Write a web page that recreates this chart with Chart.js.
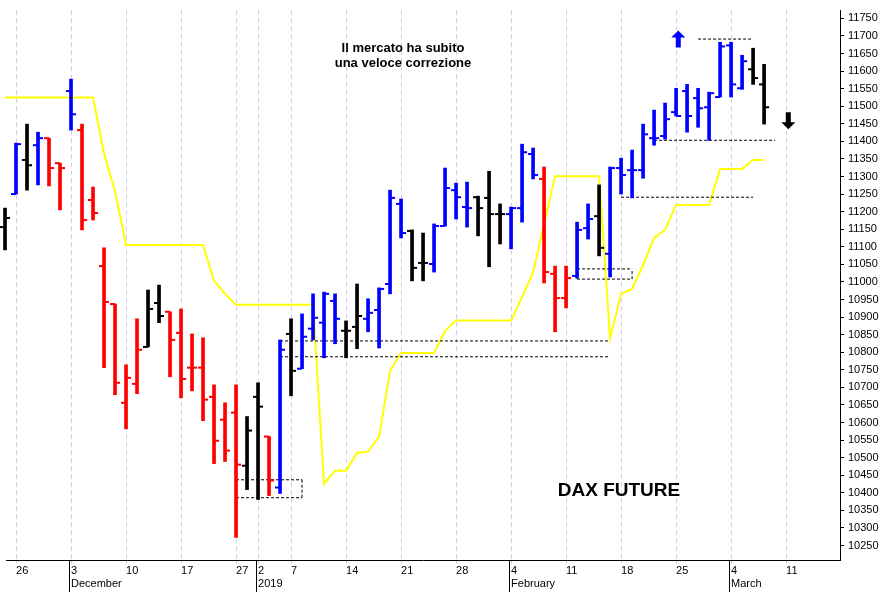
<!DOCTYPE html>
<html>
<head>
<meta charset="utf-8">
<script src="https://cdn.jsdelivr.net/npm/chart.js@4"></script>
<style>
  html, body { margin: 0; padding: 0; background: #fff; }
  #wrap { width: 896px; height: 592px; position: relative; }
</style>
</head>
<body>
<div id="wrap"><canvas id="c" width="896" height="592"></canvas></div>
<script>
// daily bars, index 1 = 23 Nov 2018 ... 70 = 7 Mar 2019
const opens  = [11156,11250,11347,11389,11409,11338,11543,11432,11233,11045,10937,10656,10710,10815,10940,10915,10855,10756,10756,10673,10608,10628,10477,10673,10560,10415,10852,10753,10867,10884,10946,10861,10872,10895,10920,10994,11222,11145,11054,11051,11159,11261,11213,11241,11239,11193,11193,11210,11364,11293,11023,10954,11017,11153,11187,11080,11324,11318,11318,11409,11415,11483,11543,11523,11497,11526,11673,11551,11605,11562];
const highs  = [11210,11395,11449,11426,11409,11338,11577,11449,11270,11097,10937,10764,10895,10977,10991,10915,10923,10852,10841,10707,10656,10707,10617,10713,10560,10835,10895,10909,10966,10971,10966,10889,10994,10952,10983,11261,11236,11148,11139,11165,11324,11281,11284,11244,11315,11222,11213,11392,11381,11327,11045,11045,11170,11222,11276,11327,11352,11375,11449,11489,11509,11551,11562,11551,11540,11682,11682,11645,11665,11619];
const lows   = [11091,11250,11261,11276,11273,11205,11432,11148,11176,10756,10679,10582,10682,10815,10884,10730,10670,10690,10605,10483,10489,10273,10409,10381,10392,10398,10676,10753,10835,10784,10824,10784,10810,10858,10812,10966,11125,11003,11003,11028,11159,11179,11156,11131,11043,11108,11094,11170,11293,10997,10858,10926,11011,11122,11074,11014,11250,11239,11295,11389,11406,11472,11426,11440,11403,11526,11526,11548,11562,11449];
const closes = [11182,11392,11332,11409,11324,11324,11477,11176,11196,10943,10713,10727,10807,10923,10903,10835,10724,10756,10665,10548,10520,10480,10577,10645,10435,10807,10747,10844,10898,10966,10895,10861,10903,10912,10980,11239,11139,11040,11054,11159,11267,11241,11210,11210,11193,11193,11210,11369,11304,11028,10954,11011,11148,11179,11097,11324,11304,11318,11420,11409,11463,11472,11472,11494,11537,11670,11562,11628,11580,11497];
const barColors = 'KBKBRRBRRRRRRKKRRRRRRRKKRBKBBBBKKBBBBKKBBBBKKKBBBRRRBBKBBBBBBBBBBBBBKK';
const stopLine = [11525,11525,11525,11525,11525,11525,11525,11525,11525,11366,11258,11105,11105,11105,11105,11105,11105,11105,11105,11003,10966,10935,10935,10935,10935,10935,10935,10935,10935,10426,10463,10463,10514,10517,10560,10747,10798,10798,10798,10798,10861,10890,10890,10890,10890,10890,10890,10957,11026,11165,11301,11301,11301,11301,11301,10840,10966,10980,11048,11125,11148,11219,11219,11219,11219,11321,11321,11321,11347,11347];
// dashed support/resistance lines: [fromIdx, toIdx, value]
const dashLines = [[26,56,10832],[26,56,10787],[57,69,11241],[60,71,11403],[64,69,11691],[22,28,10437],[22,28,10386],[53,58,11037],[53,58,11008]];
const dashBoxSides = [[22,10386,10437],[28,10386,10437],[53,11008,11037],[58,11008,11037]];
const xTickIdx = [2,7,12,17,22,24,27,32,37,42,47,52,57,62,67,72];
const xTickDays = ['26','3','10','17','27','2','7','14','21','28','4','11','18','25','4','11'];
const xTickMonths = {7:'December',24:'2019',47:'February',67:'March'};

const colMap = { B: '#0000ff', R: '#ff0000', K: '#000000' };
const idx = opens.map((_, i) => i + 1);
const cols = idx.map(i => colMap[barColors[i - 1]]);

const datasets = [];
datasets.push({
  type: 'line', data: [{ x: 0, y: stopLine[0] }].concat(idx.map((x, i) => ({ x, y: stopLine[i] }))),
  borderColor: '#ffff00', borderWidth: 2, pointRadius: 0, tension: 0, order: 5, clip: { left: 6, right: 0, top: 0, bottom: 0 }
});
dashLines.forEach(d => datasets.push({
  type: 'line', data: [{ x: d[0], y: d[2] }, { x: d[1], y: d[2] }],
  borderColor: '#000', borderWidth: 1, borderDash: [3, 2], pointRadius: 0, order: 4
}));
dashBoxSides.forEach(d => datasets.push({
  type: 'line', data: [{ x: d[0], y: d[1] }, { x: d[0], y: d[2] }],
  borderColor: '#000', borderWidth: 1, borderDash: [3, 2], pointRadius: 0, order: 4
}));
datasets.push({
  type: 'bar', data: idx.map((x, i) => ({ x, y: [lows[i], highs[i]] })),
  backgroundColor: cols, barThickness: 3, order: 1, clip: false
});
datasets.push({
  type: 'scatter', data: idx.map((x, i) => ({ x: x - 0.23, y: opens[i] })),
  pointStyle: 'line', radius: 2.5, borderWidth: 2, borderColor: cols, order: 0, clip: false
});
datasets.push({
  type: 'scatter', data: idx.map((x, i) => ({ x: x + 0.23, y: closes[i] })),
  pointStyle: 'line', radius: 2.5, borderWidth: 2, borderColor: cols, order: 0, clip: false
});

const extras = {
  id: 'extras',
  afterDatasetsDraw(chart) {
    const { ctx, scales: { x, y } } = chart;
    ctx.save();
    function arrow(px, py, up, color) {
      ctx.fillStyle = color;
      ctx.beginPath();
      const d = up ? -1 : 1;
      ctx.moveTo(px, py + d * 9);
      ctx.lineTo(px - 7, py + d * 2);
      ctx.lineTo(px - 2.5, py + d * 2);
      ctx.lineTo(px - 2.5, py - d * 8);
      ctx.lineTo(px + 2.5, py - d * 8);
      ctx.lineTo(px + 2.5, py + d * 2);
      ctx.lineTo(px + 7, py + d * 2);
      ctx.closePath();
      ctx.fill();
    }
    arrow(x.getPixelForValue(62.2), y.getPixelForValue(11690), true, '#0000ff');
    arrow(x.getPixelForValue(72.2), y.getPixelForValue(11460), false, '#000');
    ctx.fillStyle = '#000';
    ctx.textAlign = 'center';
    ctx.font = 'bold 13px "Liberation Sans", Arial, sans-serif';
    ctx.fillText('Il mercato ha subito', 403, 52);
    ctx.fillText('una veloce correzione', 403, 67);
    ctx.font = 'bold 19px "Liberation Sans", Arial, sans-serif';
    ctx.fillText('DAX FUTURE', 619, 496);
    ctx.strokeStyle = '#000';
    ctx.lineWidth = 1;
    Object.keys(xTickMonths).forEach(k => {
      const px = Math.round(x.getPixelForValue(+k)) - 1.5;
      ctx.beginPath();
      ctx.moveTo(px, chart.chartArea.bottom);
      ctx.lineTo(px, 592);
      ctx.stroke();
    });
    ctx.restore();
  }
};

new Chart(document.getElementById('c'), {
  data: { datasets },
  options: {
    responsive: false, animation: false,
    layout: { padding: 0 },
    plugins: { legend: { display: false }, tooltip: { enabled: false } },
    scales: {
      x: {
        type: 'linear', min: 1.09, max: 76.9, offset: false,
        afterBuildTicks: s => { s.ticks = xTickIdx.map(v => ({ value: v })); },
        ticks: {
          align: 'start', maxRotation: 0, autoSkip: false, padding: 1,
          color: '#000', font: { family: '"Liberation Sans", Arial', size: 11 },
          callback: v => {
            const d = xTickDays[xTickIdx.indexOf(v)];
            return xTickMonths[v] ? [d, xTickMonths[v]] : [d, ''];
          }
        },
        grid: { color: '#c8c8f0', tickLength: 3, offset: false },
        border: { color: '#000', dash: [4, 4] }
      },
      y: {
        position: 'right', min: 10207, max: 11772,
        afterFit: s => { s.width = 56; },
        afterBuildTicks: s => {
          const t = [];
          for (let v = 10250; v <= 11750; v += 50) t.push({ value: v });
          s.ticks = t;
        },
        ticks: { color: '#000', padding: 4, font: { family: '"Liberation Sans", Arial', size: 11 }, callback: v => String(v) },
        grid: { drawOnChartArea: false, tickLength: 4, color: '#000' },
        border: { color: '#000' }
      }
    }
  },
  plugins: [extras]
});
</script>
</body>
</html>
